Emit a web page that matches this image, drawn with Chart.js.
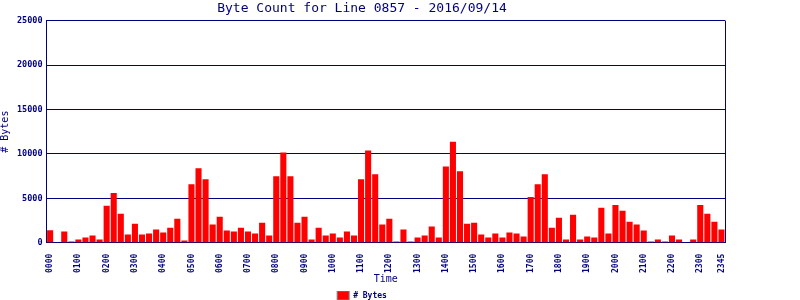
<!DOCTYPE html>
<html>
<head>
<meta charset="utf-8">
<script src="https://cdn.jsdelivr.net/npm/chart.js@4"></script>
<style>
  body { margin: 0; background: #fff; }
  #wrap { width: 800px; height: 300px; }
</style>
</head>
<body>
<div id="wrap"><canvas id="byteChart" width="800" height="300"></canvas></div>
<script>
// 15 minute slots, 0000 .. 2345
var times = [];
for (var h = 0; h < 24; h++) {
    for (var m = 0; m < 60; m += 15) {
        times.push(String(h).padStart(2, "0") + String(m).padStart(2, "0"));
    }
}

// bytes per slot
var bytes00_07 = [1400, 0, 1260, 150, 370, 590, 815, 370,
                  4150, 5590, 3260, 925, 2150, 925, 1040, 1480,
                  1150, 1700, 2700, 260, 6590, 8370, 7150, 2040,
                  2925, 1370, 1260, 1700, 1260, 1040, 2260, 815];
var bytes08_16 = [7480, 10150, 7480, 2260, 2925, 370, 1700, 815,
                  1040, 590, 1260, 815, 7150, 10370, 7700, 2040,
                  2700, 150, 1480, 150, 590, 815, 1815, 590,
                  8590, 11370, 8040, 2150, 2260, 925, 590, 1040,
                  590, 1150, 1040, 700];
var bytes17_23 = [5150, 6590, 7700, 1700, 2815, 370, 3150, 370,
                  700, 590, 3925, 1040, 4260, 3590, 2370, 2040,
                  1370, 150, 370, 150, 815, 370, 0, 370,
                  4260, 3260, 2370, 1480];
var byteCounts = bytes00_07.concat(bytes08_16, bytes17_23);

var yTicks = [0, 5000, 10000, 15000, 20000, 25000];

var navy = "#000080";
var mono = "'DejaVu Sans Mono', 'Liberation Mono', monospace";

// right hand edge of the plot box
var frame = {
    id: "frame",
    afterDraw: function(chart) {
        var a = chart.chartArea, c = chart.ctx;
        c.save();
        c.strokeStyle = navy;
        c.lineWidth = 1;
        c.beginPath();
        c.moveTo(Math.round(a.right) + 0.5, a.top);
        c.lineTo(Math.round(a.right) + 0.5, a.bottom);
        c.stroke();
        c.restore();
    }
};

var ctx = document.getElementById("byteChart");
new Chart(ctx, {
    type: "bar",
    data: {
        labels: times,
        datasets: [{
            label: "# Bytes",
            data: byteCounts,
            backgroundColor: "#ff0000",
            borderWidth: 0,
            categoryPercentage: 1.0,
            barPercentage: 0.86
        }]
    },
    options: {
        responsive: false,
        animation: false,
        layout: { padding: { left: -1, right: 75, top: 0, bottom: -10 } },
        plugins: {
            title: {
                display: true,
                text: "Byte Count for Line 0857 - 2016/09/14",
                color: navy,
                font: { family: mono, size: 13, weight: "normal" },
                padding: { top: 1, bottom: 4 }
            },
            legend: {
                position: "bottom",
                labels: {
                    color: navy,
                    font: { family: mono, size: 8, weight: "bold" },
                    boxWidth: 12,
                    boxHeight: 9,
                    padding: 0,
                    generateLabels: function(chart) {
                        var items = Chart.defaults.plugins.legend.labels.generateLabels(chart);
                        items.forEach(function(it) {
                            it.strokeStyle = "#808080";
                            it.lineWidth = 1;
                        });
                        return items;
                    }
                }
            },
            tooltip: { enabled: false }
        },
        scales: {
            x: {
                grid: { display: false },
                border: { color: navy },
                ticks: {
                    color: navy,
                    font: { family: mono, size: 8, weight: "bold" },
                    autoSkip: false,
                    minRotation: 90,
                    maxRotation: 90,
                    padding: 3,
                    callback: function(v, i) {
                        return (i % 4 === 0 || i === times.length - 1) ? times[i] : "";
                    }
                },
                title: {
                    display: true,
                    text: "Time",
                    color: navy,
                    font: { family: mono, size: 10 },
                    padding: { top: -3, bottom: 6 }
                }
            },
            y: {
                min: 0,
                max: 25000,
                afterBuildTicks: function(scale) {
                    scale.ticks = yTicks.map(function(v) { return { value: v }; });
                },
                grid: { color: navy, drawTicks: false },
                border: { color: navy },
                ticks: {
                    color: navy,
                    font: { family: mono, size: 8.5, weight: "bold" },
                    padding: 4,
                    callback: function(v) { return String(v); }
                },
                title: {
                    display: true,
                    text: "# Bytes",
                    color: navy,
                    font: { family: mono, size: 10 },
                    padding: { top: 0, bottom: 2 }
                }
            }
        }
    },
    plugins: [frame]
});
</script>
</body>
</html>
